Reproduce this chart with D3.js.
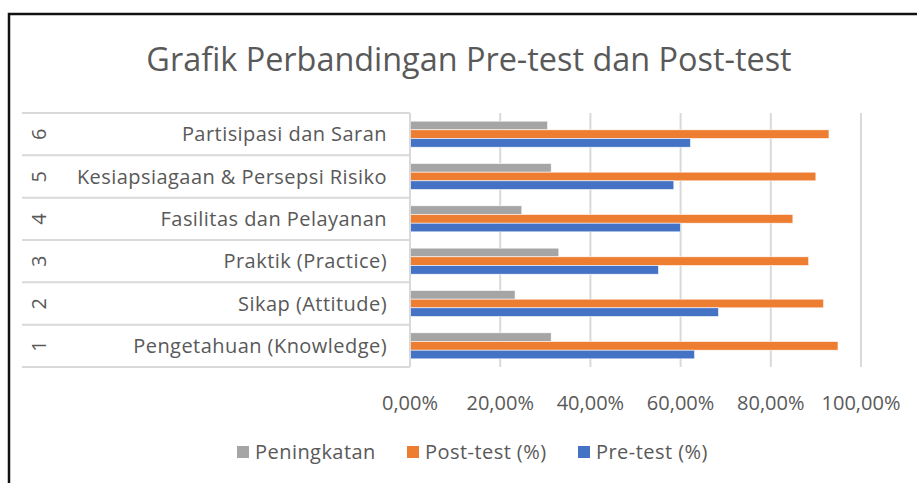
<!DOCTYPE html>
<html>
<head>
<meta charset="utf-8">
<script src="https://cdn.jsdelivr.net/npm/d3@7"></script>
<style>
  html, body { margin: 0; padding: 0; background: #fff; }
  svg { display: block; font-family: "Open Sans", sans-serif; }
  .grid line { stroke: #d9d9d9; stroke-width: 2; }
  .tick-label { fill: #595959; font-size: 20px; }
  .cat-label { fill: #595959; font-size: 20px; letter-spacing: 0.45px; }
</style>
</head>
<body>
<svg id="chart" width="917" height="483"></svg>
<script>
const W = 917, H = 483;
const M = { top: 113, right: 56, bottom: 116, left: 410 };

// Categories, bottom to top as in the picture (1 at the bottom).
const catIds = ['1', '2', '3', '4', '5', '6'];
const catNames = [
  'Pengetahuan (Knowledge)',
  'Sikap (Attitude)',
  'Praktik (Practice)',
  'Fasilitas dan Pelayanan',
  'Kesiapsiagaan & Persepsi Risiko',
  'Partisipasi dan Saran'
];
const preTest = [0.631, 0.684, 0.551, 0.600, 0.585, 0.622];
const postTest = [0.949, 0.917, 0.884, 0.849, 0.900, 0.929];
const gain = [0.313, 0.233, 0.330, 0.248, 0.313, 0.305];

const seriesNames = ['Peningkatan', 'Post-test (%)', 'Pre-test (%)'];
const seriesColors = ['#a5a5a5', '#ed7d31', '#4472c4'];
const seriesValues = [gain, postTest, preTest];

const xTicks = [0, 0.2, 0.4, 0.6, 0.8, 1.0];
const title = 'Grafik Perbandingan Pre-test dan Post-test';

const svg = d3.select('#chart');
const innerW = W - M.left - M.right;
const innerH = H - M.top - M.bottom;

// outer frame (runs off the right and bottom edges)
svg.append('rect')
  .attr('x', 9).attr('y', 14).attr('width', W + 20).attr('height', H + 20)
  .attr('fill', 'none').attr('stroke', '#111').attr('stroke-width', 2.5);

svg.append('text')
  .attr('x', 469).attr('y', 71)
  .attr('text-anchor', 'middle')
  .attr('fill', '#595959')
  .style('font-size', '32.4px')
  .text(title);

const x = d3.scaleLinear().domain([0, 1]).range([0, innerW]);
const y = d3.scaleBand().domain(catIds.slice().reverse()).range([0, innerH])
  .paddingInner(0.385).paddingOuter(0.1925);
const sub = d3.scaleBand().domain(d3.range(seriesNames.length)).range([0, y.bandwidth()]);

const g = svg.append('g').attr('transform', `translate(${M.left},${M.top})`);

// vertical gridlines
g.append('g').attr('class', 'grid')
  .selectAll('line').data(xTicks.slice(1)).join('line')
  .attr('x1', d => x(d)).attr('x2', d => x(d))
  .attr('y1', 0).attr('y2', innerH);

// x tick labels
g.append('g').selectAll('text').data(xTicks).join('text')
  .attr('class', 'tick-label')
  .attr('x', d => x(d)).attr('y', innerH + 43)
  .attr('text-anchor', 'middle')
  .text(d => d3.format('.2f')(d * 100).replace('.', ',') + '%');

// bars
seriesValues.forEach((vals, si) => {
  g.append('g').selectAll('rect').data(catIds).join('rect')
    .attr('x', 0)
    .attr('y', (c, i) => y(c) + sub(si))
    .attr('width', (c, i) => x(vals[i]))
    .attr('height', sub.bandwidth())
    .attr('fill', seriesColors[si])
    .attr('stroke', '#fff').attr('stroke-width', 0.6);
});

// category axis: line + separators running across the label area
const step = y.step();
const bounds = d3.range(catIds.length + 1).map(i => i * step);
const cat = g.append('g').attr('class', 'grid');
cat.append('line').attr('x1', 0).attr('x2', 0).attr('y1', 0).attr('y2', innerH);
cat.selectAll('line.sep').data(bounds).join('line')
  .attr('class', 'sep')
  .attr('x1', 22 - M.left).attr('x2', 0)
  .attr('y1', d => d).attr('y2', d => d);

catIds.forEach((c, i) => {
  const cy = y(c) + y.bandwidth() / 2;
  g.append('text')
    .attr('class', 'cat-label')
    .attr('x', 387 - M.left).attr('y', cy)
    .attr('dy', '0.35em')
    .attr('text-anchor', 'end')
    .text(catNames[i]);
  g.append('text')
    .attr('class', 'cat-label')
    .attr('transform', `translate(${39 - M.left},${cy}) rotate(-90)`)
    .attr('dy', '0.35em')
    .attr('text-anchor', 'middle')
    .text(c);
});

// legend
const legendX = [237, 407, 578];
const lg = svg.append('g');
seriesNames.forEach((name, i) => {
  lg.append('rect')
    .attr('x', legendX[i]).attr('y', 446).attr('width', 12).attr('height', 12)
    .attr('fill', seriesColors[i]);
  lg.append('text')
    .attr('class', 'cat-label')
    .attr('x', legendX[i] + 18).attr('y', 452)
    .attr('dy', '0.35em')
    .text(name);
});
</script>
</body>
</html>
